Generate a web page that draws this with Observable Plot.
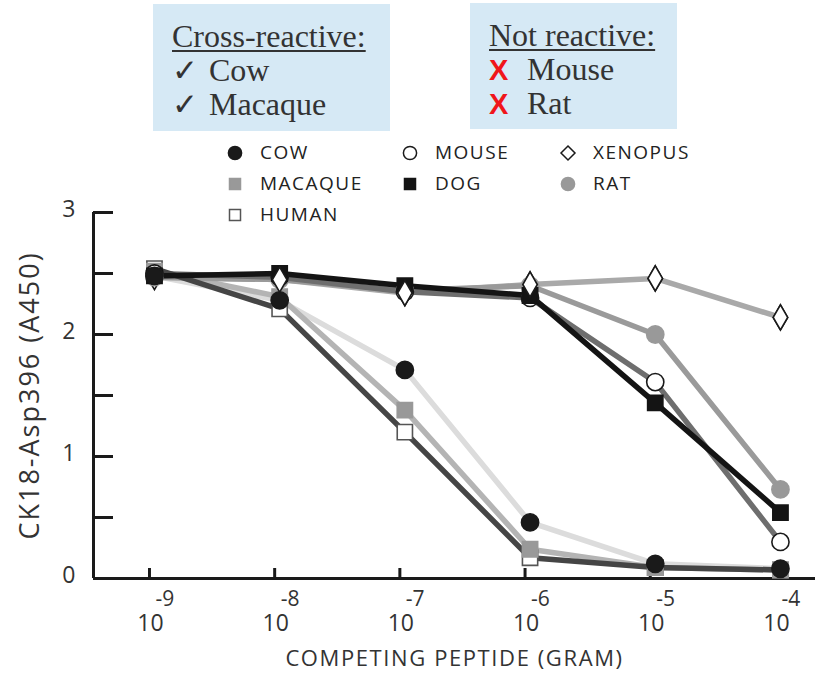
<!DOCTYPE html>
<html>
<head>
<meta charset="utf-8">
<script src="https://cdn.jsdelivr.net/npm/d3@7"></script>
<script src="https://cdn.jsdelivr.net/npm/@observablehq/plot@0.6"></script>
<style>
  body { margin: 0; background: #fff; }
  #wrap { position: relative; width: 815px; height: 676px; overflow: hidden; }
  #wrap svg.plot { position: absolute; left: 0; top: 0; }
  .box { position: absolute; background: #d6e9f5; font-family: "Liberation Serif", "Times New Roman", serif; font-size: 32px; color: #333; }
  .box .line { position: absolute; white-space: nowrap; line-height: 1; }
  .box .head { text-decoration: underline; text-decoration-thickness: 2px; text-underline-offset: 3px; }
  .check { display: inline-block; width: 37px; font-family: "DejaVu Sans", sans-serif; font-size: 31px; }
  .cross { display: inline-block; width: 38px; color: #f0151a; font-family: "Liberation Sans", Arial, sans-serif; font-weight: bold; font-size: 29px; }
  .leg { position: absolute; font-family: "Open Sans", sans-serif; font-size: 19px; letter-spacing: 1.5px; color: #222; white-space: nowrap; }
  .leg svg { position: absolute; }
</style>
</head>
<body>
<div id="wrap"></div>
<script>
// Competing peptide amount, as powers of ten (gram)
const exponents = [-9, -8, -7, -6, -5, -4];

// CK18-Asp396 signal (A450) for each species' peptide
const cow     = [2.48, 2.28, 1.71, 0.46, 0.12, 0.08];
const macaque = [2.52, 2.31, 1.38, 0.24, 0.09, 0.07];
const human   = [2.54, 2.21, 1.20, 0.17, 0.09, 0.07];
const mouse   = [2.50, 2.47, 2.35, 2.30, 1.61, 0.30];
const dog     = [2.48, 2.50, 2.40, 2.32, 1.44, 0.54];
const rat     = [2.47, 2.45, 2.36, 2.40, 2.00, 0.73];
const xenopus = [2.47, 2.45, 2.34, 2.41, 2.46, 2.14];

const yTicks = [0, 0.5, 1, 1.5, 2, 2.5, 3];
const yTickLabels = [0, 1, 2, 3];
const yTitle = "CK18-Asp396 (A450)";
const xTitle = "COMPETING PEPTIDE (GRAM)";

const crossReactive = ["Cow", "Macaque"];
const notReactive = ["Mouse", "Rat"];

// Styling for each series: line colour and marker look
const series = [
  {name: "COW",     values: cow,     line: "#dcdcdc", symbol: "circle",  fill: "#1a1a1a", stroke: "#1a1a1a"},
  {name: "XENOPUS", values: xenopus, line: "#a9a9a9", symbol: "diamond", fill: "#ffffff", stroke: "#1a1a1a"},
  {name: "MACAQUE", values: macaque, line: "#b4b4b4", symbol: "square",  fill: "#999999", stroke: "#999999"},
  {name: "RAT",     values: rat,     line: "#9a9a9a", symbol: "circle",  fill: "#999999", stroke: "#999999"},
  {name: "MOUSE",   values: mouse,   line: "#6e6e6e", symbol: "circle",  fill: "#ffffff", stroke: "#1a1a1a"},
  {name: "HUMAN",   values: human,   line: "#454545", symbol: "square",  fill: "#ffffff", stroke: "#555555"},
  {name: "DOG",     values: dog,     line: "#141414", symbol: "square",  fill: "#141414", stroke: "#141414"}
];
// Order in which markers are stacked (last on top)
const markerOrder = ["XENOPUS", "HUMAN", "MACAQUE", "RAT", "MOUSE", "DOG", "COW"];
// Series whose markers sit above the others from the second dose on
const raisedFromSecond = ["XENOPUS"];

const W = 815, H = 676;
const mLeft = 93, mRight = 0, mTop = 212, mBottom = 98;
const innerW = W - mLeft - mRight, innerH = H - mTop - mBottom;
const xDomain = [10 ** -9.487, 10 ** -3.72];

const rowsOf = s => exponents.map((e, i) => ({dose: 10 ** e, value: s.values[i], i}));

const dotOptions = s => ({x: "dose", y: "value", symbol: s.symbol, r: s.symbol === "diamond" ? 7.6 : 8.6,
  fill: s.fill, stroke: s.stroke, strokeWidth: 1.6});

const marks = [];
for (const s of series) {
  marks.push(Plot.line(rowsOf(s), {x: "dose", y: "value", stroke: s.line, strokeWidth: 5.5, strokeLinejoin: "round"}));
}
for (const n of markerOrder) {
  const s = series.find(d => d.name === n);
  marks.push(Plot.dot(rowsOf(s), dotOptions(s)));
}
for (const n of raisedFromSecond) {
  const s = series.find(d => d.name === n);
  marks.push(Plot.dot(rowsOf(s).filter(d => d.i > 0), dotOptions(s)));
}

const chart = Plot.plot({
  width: W, height: H,
  marginLeft: mLeft, marginRight: mRight, marginTop: mTop, marginBottom: mBottom,
  x: {type: "log", domain: xDomain, axis: null},
  y: {domain: [0, 3], axis: null},
  style: {background: "transparent", fontFamily: "'Open Sans', sans-serif", color: "#333"},
  marks: [
    // axis lines
    Plot.ruleY([0], {stroke: "#1a1a1a", strokeWidth: 3}),
    Plot.ruleX([xDomain[0]], {stroke: "#1a1a1a", strokeWidth: 3}),
    // inward ticks
    Plot.ruleY(yTicks, {y: d => d, stroke: "#1a1a1a", strokeWidth: 3, insetRight: innerW - 20}),
    Plot.ruleX(exponents, {x: d => 10 ** d, stroke: "#1a1a1a", strokeWidth: 3, insetTop: innerH - 10, dx: -5}),
    // tick labels: base 10 with the exponent raised to its upper right
    Plot.text(yTickLabels, {y: d => d, text: d => String(d), frameAnchor: "left", textAnchor: "end", dx: -18, dy: -3, fontSize: 23, fill: "#333"}),
    Plot.text(exponents, {x: d => 10 ** d, text: () => "10", frameAnchor: "bottom", textAnchor: "middle", dx: -4, dy: 52, fontSize: 23, fill: "#333"}),
    Plot.text(exponents, {x: d => 10 ** d, text: d => String(d), frameAnchor: "bottom", textAnchor: "start", dx: 1, dy: 27, fontSize: 21, fill: "#333"}),
    // axis titles
    Plot.text([yTitle], {frameAnchor: "left", textAnchor: "middle", rotate: -90, dx: -63, fontSize: 27, fill: "#333"}),
    Plot.text([xTitle], {frameAnchor: "bottom", textAnchor: "middle", dy: 87, fontSize: 22, fill: "#333"}),
    ...marks
  ]
});
chart.classList.add("plot");

// Widen the tracking of the two axis titles
d3.select(chart).selectAll("text")
  .filter(function () { return this.textContent === yTitle; })
  .attr("letter-spacing", "2px");
d3.select(chart).selectAll("text")
  .filter(function () { return this.textContent === xTitle; })
  .attr("letter-spacing", "1.6px");

const wrap = document.getElementById("wrap");
wrap.appendChild(chart);

// Reactivity boxes
function box(left, top, width, height, head, items, mark) {
  const b = document.createElement("div");
  b.className = "box";
  Object.assign(b.style, {left: left + "px", top: top + "px", width: width + "px", height: height + "px"});
  const h = document.createElement("div");
  h.className = "line head";
  h.textContent = head;
  Object.assign(h.style, {left: "19px", top: "16px"});
  b.appendChild(h);
  items.forEach((t, i) => {
    const l = document.createElement("div");
    l.className = "line";
    Object.assign(l.style, {left: "19px", top: (50 + i * 34) + "px"});
    const m = document.createElement("span");
    m.className = mark === "check" ? "check" : "cross";
    m.textContent = mark === "check" ? "\u2713" : "X";
    l.appendChild(m);
    l.appendChild(document.createTextNode(t));
    b.appendChild(l);
  });
  wrap.appendChild(b);
}
box(153, 4, 237, 127, "Cross-reactive:", crossReactive, "check");
box(470, 3, 207, 126, "Not reactive:", notReactive, "cross");

// Species legend
const legendCols = [235, 410, 568];
const legendRows = [153, 184, 215];
const legendOrder = [["COW", 0, 0], ["MOUSE", 1, 0], ["XENOPUS", 2, 0], ["MACAQUE", 0, 1], ["DOG", 1, 1], ["RAT", 2, 1], ["HUMAN", 0, 2]];
for (const [n, c, r] of legendOrder) {
  const s = series.find(d => d.name === n);
  const cx = legendCols[c], cy = legendRows[r];
  const item = document.createElement("div");
  item.className = "leg";
  Object.assign(item.style, {left: (cx - 10) + "px", top: (cy - 10) + "px"});
  const ns = "http://www.w3.org/2000/svg";
  const svg = document.createElementNS(ns, "svg");
  svg.setAttribute("width", 20); svg.setAttribute("height", 20);
  svg.style.left = "0px"; svg.style.top = "0px";
  let shape;
  if (s.symbol === "circle") {
    shape = document.createElementNS(ns, "circle");
    shape.setAttribute("cx", 10); shape.setAttribute("cy", 10); shape.setAttribute("r", 6.6);
  } else if (s.symbol === "square") {
    shape = document.createElementNS(ns, "rect");
    shape.setAttribute("x", 4.5); shape.setAttribute("y", 4.5); shape.setAttribute("width", 11); shape.setAttribute("height", 11);
  } else {
    shape = document.createElementNS(ns, "path");
    shape.setAttribute("d", "M10,3 L17,10 L10,17 L3,10 Z");
  }
  shape.setAttribute("fill", s.fill);
  shape.setAttribute("stroke", s.stroke);
  shape.setAttribute("stroke-width", 1.5);
  svg.appendChild(shape);
  item.appendChild(svg);
  const label = document.createElement("span");
  label.textContent = s.name;
  Object.assign(label.style, {position: "absolute", left: "35px", top: "-4px"});
  item.appendChild(label);
  wrap.appendChild(item);
}
</script>
</body>
</html>
